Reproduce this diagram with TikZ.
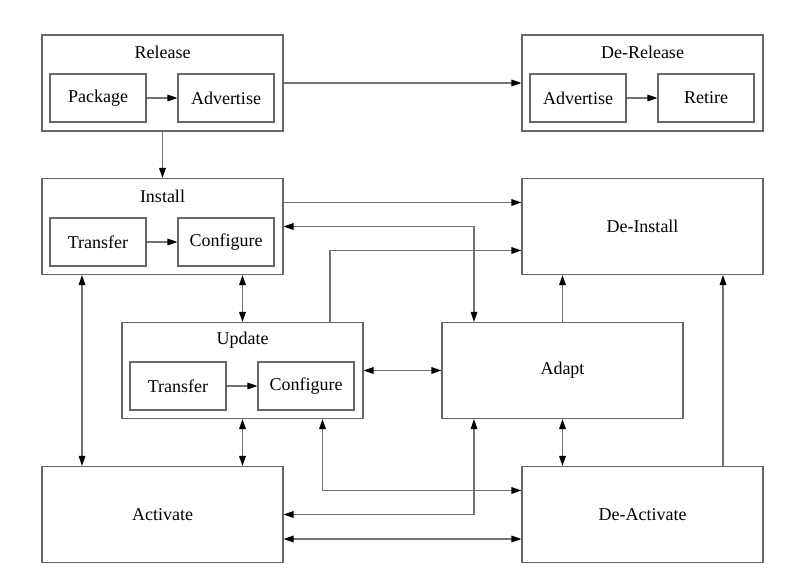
\documentclass[tikz,border=0pt]{standalone}
\usepackage{fontspec}
\setmainfont{Liberation Serif}
\usetikzlibrary{arrows.meta,calc}

\begin{document}
\begin{tikzpicture}
    [x=0.75pt, y=-0.75pt, font=\fontsize{13.5}{16}\selectfont,
     >={Triangle[length=7.5pt,width=5pt,color=black,fill=black]},
     phase/.style={draw=black!60, line width=0.85pt, minimum width=180.75pt,
       minimum height=72pt, inner sep=0pt},
     task/.style={draw=black!60, line width=0.85pt, minimum width=72pt,
       minimum height=36pt, inner sep=0pt},
     link/.style={draw=black!55, line width=0.85pt}]
    \useasboundingbox (0, 0) rectangle (807, 588);
    % phases
    \node[phase] (release) at (162.5, 83) {};
    \node at (162.5, 52) {Release};
    \node[task] (package) at (98, 98) {Package};
    \node[task] (advertise) at (226, 98) {Advertise};
    \node[phase] (derelease) at (642.5, 83) {};
    \node at (642.5, 52) {De-Release};
    \node[task] (dadvertise) at (578, 98) {Advertise};
    \node[task] (retire) at (706, 98) {Retire};
    \node[phase] (install) at (162.5, 226.5) {};
    \node at (162.5, 196) {Install};
    \node[task] (itransfer) at (98, 242) {Transfer};
    \node[task] (iconfigure) at (226, 242) {Configure};
    \node[phase] (deinstall) at (642.5, 226.5) {De-Install};
    \node[phase] (update) at (242.5, 370.5) {};
    \node at (242.5, 340) {Update};
    \node[task] (utransfer) at (178, 386) {Transfer};
    \node[task] (uconfigure) at (306, 386) {Configure};
    \node[phase] (adapt) at (562.5, 370.5) {Adapt};
    \node[phase] (activate) at (162.5, 514.5) {Activate};
    \node[phase] (deactivate) at (642.5, 514.5) {De-Activate};
    % inner steps
    \draw[link, ->] (package) -- (advertise);
    \draw[link, ->] (dadvertise) -- (retire);
    \draw[link, ->] (itransfer) -- (iconfigure);
    \draw[link, ->] (utransfer) -- (uconfigure);
    % between phases
    \draw[link, ->] (release) -- (derelease);
    \draw[link, ->] (release) -- (install);
    \draw[link, ->] ($(install.east) + (0, -24)$) -- ($(deinstall.west) + (0, -24)$);
    \draw[link, <->] (install.east) -| ($(adapt.north) + (-88.5, 0)$);
    \draw[link, ->] ($(update.north) + (87.5, 0)$) |- ($(deinstall.west) + (0, 24)$);
    \draw[link, <->] (install.south -| update.north) -- (update.north);
    \draw[link, <->] ($(install.south) + (-80.5, 0)$) -- ($(activate.north) + (-80.5, 0)$);
    \draw[link, <->] (update) -- (adapt);
    \draw[link, ->] (adapt.north) -- (adapt.north |- deinstall.south);
    \draw[link, ->] ($(deactivate.north) + (80.5, 0)$) -- ($(deinstall.south) + (80.5, 0)$);
    \draw[link, <->] (adapt.south) -- (adapt.south |- deactivate.north);
    \draw[link, <->] (update.south) -- (update.south |- activate.north);
    \draw[link, <->] ($(update.south) + (80, 0)$) |- ($(deactivate.west) + (0, -24)$);
    \draw[link, <->] ($(adapt.south) + (-88.5, 0)$) |- (activate.east);
    \draw[link, <->] ($(activate.east) + (0, 24.5)$) -- ($(deactivate.west) + (0, 24.5)$);
  \end{tikzpicture}
\end{document}
